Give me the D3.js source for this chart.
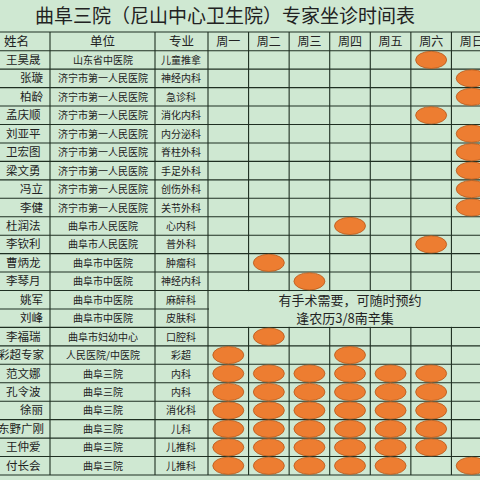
<!DOCTYPE html>
<html><head><meta charset="utf-8">
<script src="https://cdn.jsdelivr.net/npm/d3@7"></script>
<style>body{margin:0;background:#cfe8d2}svg{display:block}</style>
</head><body><svg id="c" width="480" height="480"></svg>
<script>
const title = "曲阜三院（尼山中心卫生院）专家坐诊时间表";
const headers = ["姓名","单位","专业"];
const days = ["周一","周二","周三","周四","周五","周六","周日"];
const names = ["王昊晟","张璇","柏龄","孟庆顺","刘亚平","卫宏图","梁文勇","冯立","李健","杜润法","李钦利","曹炳龙","李琴月","姚军","刘峰","李福瑞","彩超专家","范文娜","孔令波","徐丽","东野广刚","王仲爱","付长会"];
const units = ["山东省中医院","济宁市第一人民医院","济宁市第一人民医院","济宁市第一人民医院","济宁市第一人民医院","济宁市第一人民医院","济宁市第一人民医院","济宁市第一人民医院","济宁市第一人民医院","曲阜市人民医院","曲阜市人民医院","曲阜市中医院","曲阜市中医院","曲阜市中医院","曲阜市中医院","曲阜市妇幼中心","人民医院/中医院","曲阜三院","曲阜三院","曲阜三院","曲阜三院","曲阜三院","曲阜三院"];
const specialties = ["儿童推拿","神经内科","急诊科","消化内科","内分泌科","脊柱外科","手足外科","创伤外科","关节外科","心内科","普外科","肿瘤科","神经内科","麻醉科","皮肤科","口腔科","彩超","内科","内科","消化科","儿科","儿推科","儿推科"];
// day indices (0=周一 … 6=周日) with clinic sessions per row
const schedule = [[5],[6],[6],[5],[6],[6],[6],[6],[6],[3],[5],[1],[2],[],[],[1],[0,3],[0,1,2,3,4,5],[0,1,2,3,4,5],[0,1,2,3,4,5],[0,1,2,3,4,5],[0,1,2,3,4,5],[0,1,2,3,4,6]];
const noteLines = ["有手术需要，可随时预约","逢农历3/8南辛集"];
const noteRows = [13,14];

const svg = d3.select("#c");
const colEdges = [0,50,155,208];
const x = d3.scaleBand().domain(days).range([208,492]).padding(0);
const y = d3.scaleBand().domain(d3.range(names.length)).range([50.7,475]).padding(0);
const headTop = 32, headBot = 50.7;
const font = "'Noto Sans CJK SC', sans-serif";
const grid = "#1f2f22";

svg.append("rect").attr("width",480).attr("height",480).attr("fill","#cfe8d2");
svg.append("text").attr("x",225).attr("y",23).attr("text-anchor","middle")
  .attr("font-family",font).attr("font-size",19).attr("fill","#222").text(title);

// header text
const textCols = [[0,50],[50,155],[155,208]];
headers.forEach((h,i)=>{
  svg.append("text").attr("x",i===0?4:(textCols[i][0]+textCols[i][1])/2).attr("y",(headTop+headBot)/2+4.5)
   .attr("text-anchor",i===0?"start":"middle").attr("font-family",font).attr("font-size",12.5).attr("fill","#222").text(h);
});
days.forEach(d=>{
  svg.append("text").attr("x",x(d)+x.bandwidth()/2).attr("y",(headTop+headBot)/2+4.5)
   .attr("text-anchor","middle").attr("font-family",font).attr("font-size",12).attr("fill","#222").text(d);
});

// row text
names.forEach((n,i)=>{
  const cy = y(i)+y.bandwidth()/2+4;
  svg.append("text").attr("x",n.length>=4?-2:(n.length===2?20:6)).attr("y",cy).attr("font-family",font).attr("font-size",11.5).attr("fill","#222").text(n);
  svg.append("text").attr("x",103).attr("y",cy).attr("text-anchor","middle").attr("font-family",font).attr("font-size",10).attr("fill","#222").text(units[i]);
  svg.append("text").attr("x",181).attr("y",cy).attr("text-anchor","middle").attr("font-family",font).attr("font-size",10).attr("fill","#222").text(specialties[i]);
});

// grid lines
const lg = svg.append("g").attr("stroke",grid).attr("stroke-width",1.1);
const hLines = [headTop, ...d3.range(names.length+1).map(i=>i<names.length?y(i):475)];
hLines.forEach((yy,k)=>{
  lg.append("line").attr("x1",0).attr("x2",480).attr("y1",yy).attr("y2",yy);
});
const vx = [50,155,208,...days.map(d=>x(d)+x.bandwidth())];
vx.forEach(xx=>lg.append("line").attr("x1",xx).attr("x2",xx).attr("y1",headTop).attr("y2",475));

// merged note cell
const nTop = y(noteRows[0]), nBot = y(noteRows[1])+y.bandwidth();
svg.append("rect").attr("x",209).attr("y",nTop+0.6).attr("width",271).attr("height",nBot-nTop-1.2).attr("fill","#cfe8d2");
noteLines.forEach((t,k)=>{
  svg.append("text").attr("x",k===0?350:345).attr("y",nTop+y.bandwidth()/2+5+k*y.bandwidth())
   .attr("text-anchor","middle").attr("font-family",font).attr("font-size",13).attr("fill","#222").text(t);
});

// ellipses
const pts = [];
schedule.forEach((s,i)=>s.forEach(d=>pts.push({row:i,day:days[d]})));
svg.append("g").selectAll("ellipse").data(pts).join("ellipse")
  .attr("cx",d=>x(d.day)+x.bandwidth()/2).attr("cy",d=>y(d.row)+y.bandwidth()/2)
  .attr("rx",15.5).attr("ry",8.6).attr("fill","#ed7d31").attr("stroke","#b5591c").attr("stroke-width",0.8);
</script></body></html>
